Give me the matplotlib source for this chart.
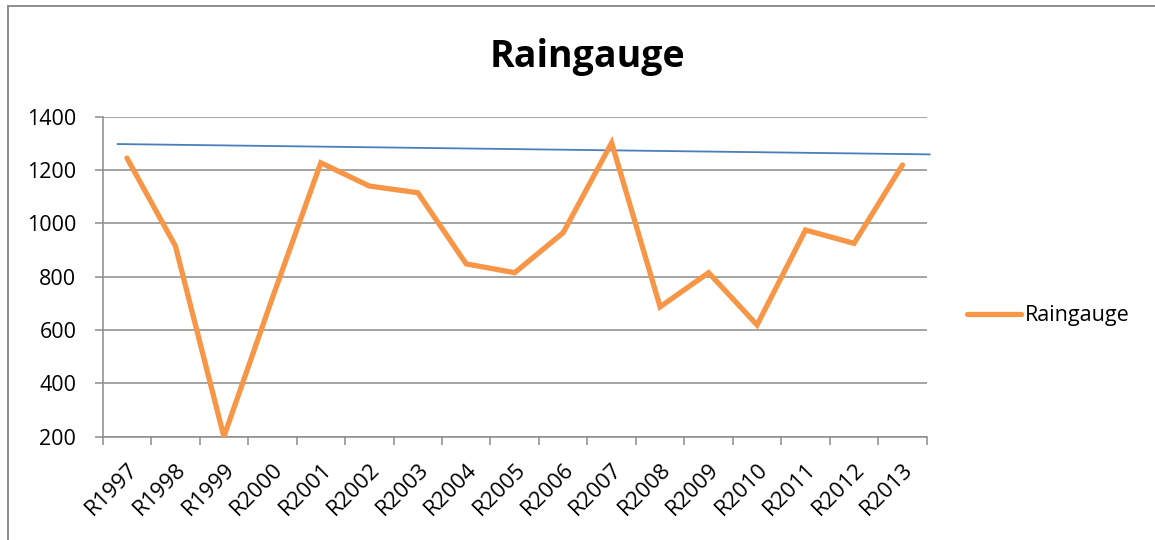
import matplotlib
matplotlib.use("Agg")
import matplotlib.pyplot as plt
import matplotlib.transforms as mtransforms
import numpy as np

# -----------------------------
# DATA
# -----------------------------

years = ["R1997", "R1998", "R1999", "R2000", "R2001", "R2002", "R2003", "R2004", "R2005",
         "R2006", "R2007", "R2008", "R2009", "R2010", "R2011", "R2012", "R2013"]

raingauge = [1245, 915, 200, 720, 1227, 1140, 1115, 848, 815,
             965, 1302, 687, 815, 619, 975, 925, 1219]

# blue reference line, value at first and last category
trend_ends = [1297, 1260]

yticks = [200, 400, 600, 800, 1000, 1200, 1400]

# -----------------------------
# PLOT
# -----------------------------

plt.rcParams["font.family"] = ["Open Sans", "DejaVu Sans"]

W, H = 1155, 540
fig = plt.figure(figsize=(W / 100, H / 100), dpi=100)
ax = fig.add_axes([102.7 / W, 1 - 436.7 / H, 824 / W, 320 / H])

x = np.arange(len(years))

# trend line, extended a little past the first/last category
slope = (trend_ends[1] - trend_ends[0]) / (len(years) - 1)
tx = np.array([-0.19, len(years) - 1 + 0.56])
ax.plot(tx, trend_ends[0] + slope * tx, color="#4A7EBB", lw=1.3, clip_on=False, zorder=3)

line, = ax.plot(x, raingauge, color="#F79646", lw=3.8, solid_joinstyle="miter",
                solid_capstyle="round", zorder=4, label="Raingauge")

ax.set_xlim(-0.5, len(years) - 0.5)
ax.set_ylim(200, 1400)

ax.set_yticks(yticks)
ax.set_yticklabels([str(v) for v in yticks], fontsize=15.5)
ax.yaxis.grid(True, color="#8c8c8c", lw=1.1)
ax.set_axisbelow(True)

ax.set_xticks(x)
ax.set_xticklabels(years, fontsize=16, rotation=45, ha="right", rotation_mode="anchor")
shift = mtransforms.ScaledTranslation(6 / 100, 0, fig.dpi_scale_trans)
for lab in ax.get_xticklabels():
    lab.set_transform(lab.get_transform() + shift)
ax.set_xticks(np.arange(-0.5, len(years), 1), minor=True)
ax.tick_params(axis="x", which="major", length=0, pad=16)
ax.tick_params(axis="x", which="minor", length=6, color="#8c8c8c", width=1.1)
ax.tick_params(axis="y", length=6, color="#8c8c8c", width=1.1, pad=13)

for s in ["top", "right"]:
    ax.spines[s].set_visible(False)
for s in ["left", "bottom"]:
    ax.spines[s].set_color("#8c8c8c")
    ax.spines[s].set_linewidth(1.1)

fig.text(587 / W, 1 - 57 / H, "Raingauge", ha="center", va="center", fontsize=27, fontweight="bold")

fig.legend(handles=[line], loc="center left", bbox_to_anchor=(967 / W, 1 - 316 / H), frameon=False,
           fontsize=15.5, handlelength=2.5, handletextpad=0.2, borderaxespad=0, borderpad=0)

# chart border (only left and top edges fall inside the picture)
fig.add_artist(plt.Line2D([7.5 / W, 7.5 / W], [0, 1 - 5.5 / H], transform=fig.transFigure,
                          color="#8c8c8c", lw=1.4))
fig.add_artist(plt.Line2D([7.5 / W, 1], [1 - 5.5 / H, 1 - 5.5 / H], transform=fig.transFigure,
                          color="#8c8c8c", lw=1.4))

fig.savefig("out.png", dpi=100, facecolor="white")
